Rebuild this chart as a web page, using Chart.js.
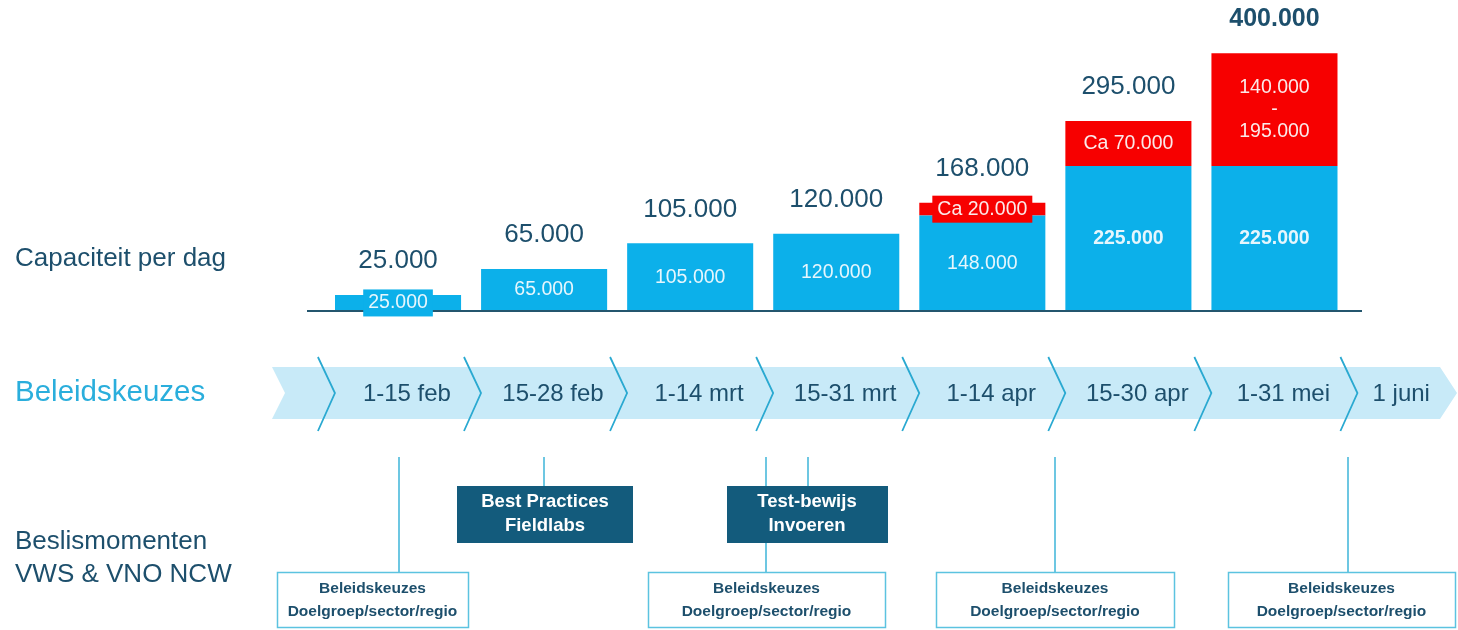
<!DOCTYPE html>
<html>
<head>
<meta charset="utf-8">
<script src="https://cdn.jsdelivr.net/npm/chart.js@4/dist/chart.umd.min.js"></script>
<style>
  html, body { margin: 0; padding: 0; background: #fff; }
  #wrap { width: 1458px; height: 630px; position: relative; }
</style>
</head>
<body>
<div id="wrap"><canvas id="grafico" width="1458" height="630"></canvas></div>
<script>
// periodes (balken) en tijdlijn
const periodes = ['1-15 feb', '15-28 feb', '1-14 mrt', '15-31 mrt', '1-14 apr', '15-30 apr', '1-31 mei'];
const tijdlijn = ['1-15 feb', '15-28 feb', '1-14 mrt', '15-31 mrt', '1-14 apr', '15-30 apr', '1-31 mei', '1 juni'];

// capaciteit per dag
const basis = [25000, 65000, 105000, 120000, 148000, 225000, 225000];
const extra = [0, 0, 0, 0, 20000, 70000, 175000];
const totalen = [25000, 65000, 105000, 120000, 168000, 295000, 400000];

const basisLabels = ['25.000', '65.000', '105.000', '120.000', '148.000', '225.000', '225.000'];
const extraLabels = ['', '', '', '', 'Ca 20.000', 'Ca 70.000', '140.000\n-\n195.000'];

const FONT = '"Liberation Sans", Arial, sans-serif';
const DONKER = '#1d4f6c';
const BLAUW = '#0cb0ea';
const ROOD = '#f70000';

function tekst(ctx, str, x, y, size, color, bold, align) {
  ctx.font = (bold ? 'bold ' : '') + size + 'px ' + FONT;
  ctx.fillStyle = color;
  ctx.textAlign = align || 'center';
  ctx.textBaseline = 'middle';
  ctx.fillText(str, x, y);
}

const infographic = {
  id: 'infographic',
  beforeDatasetsDraw(chart) {
    const ctx = chart.ctx;
    const x = chart.scales.x;
    ctx.save();

    // linker kolom
    tekst(ctx, 'Capaciteit per dag', 15, 259, 26, DONKER, false, 'left');
    tekst(ctx, 'Beleidskeuzes', 15, 393, 29.5, '#2aaedc', false, 'left');
    tekst(ctx, 'Beslismomenten', 15, 542, 26, DONKER, false, 'left');
    tekst(ctx, 'VWS & VNO NCW', 15, 575, 26, DONKER, false, 'left');

    // tijdlijn band
    ctx.fillStyle = '#c8eaf8';
    ctx.beginPath();
    ctx.moveTo(272, 367);
    ctx.lineTo(1440, 367);
    ctx.lineTo(1457, 393);
    ctx.lineTo(1440, 419);
    ctx.lineTo(272, 419);
    ctx.lineTo(285, 393);
    ctx.closePath();
    ctx.fill();

    const half = x.getPixelForValue(1) - x.getPixelForValue(0);
    const punten = tijdlijn.map((_, i) => x.getPixelForValue(i) - half * 0.432);
    ctx.strokeStyle = '#2aa9d1';
    ctx.lineWidth = 1.8;
    punten.forEach((p) => {
      ctx.beginPath();
      ctx.moveTo(p - 17, 357);
      ctx.lineTo(p, 393);
      ctx.lineTo(p - 17, 431);
      ctx.stroke();
    });
    tijdlijn.forEach((t, i) => {
      const cx = i < tijdlijn.length - 1 ? punten[i] + 72 : (punten[i] + 1445) / 2;
      tekst(ctx, t, cx, 394, 24, DONKER, false);
    });

    // beslismomenten
    ctx.strokeStyle = '#3cb5d9';
    ctx.lineWidth = 1.5;
    [[399, 457, 572], [544, 457, 486], [766, 457, 572], [808, 457, 486], [1055, 457, 572], [1348, 457, 572]].forEach(([lx, y1, y2]) => {
      ctx.beginPath();
      ctx.moveTo(lx, y1);
      ctx.lineTo(lx, y2);
      ctx.stroke();
    });

    ctx.fillStyle = '#135b7c';
    ctx.fillRect(457, 486, 176, 57);
    ctx.fillRect(727, 486, 161, 57);
    tekst(ctx, 'Best Practices', 545, 502, 18.5, '#fff', true);
    tekst(ctx, 'Fieldlabs', 545, 526, 18.5, '#fff', true);
    tekst(ctx, 'Test-bewijs', 807, 502, 18.5, '#fff', true);
    tekst(ctx, 'Invoeren', 807, 526, 18.5, '#fff', true);

    [[277, 191], [648, 237], [936, 238], [1228, 227]].forEach(([bx, bw]) => {
      ctx.fillStyle = '#fff';
      ctx.fillRect(bx, 572, bw, 56);
      ctx.strokeStyle = '#5cc3e0';
      ctx.lineWidth = 1.5;
      ctx.strokeRect(bx + 0.5, 572.5, bw, 55);
      tekst(ctx, 'Beleidskeuzes', bx + bw / 2, 589, 15.5, DONKER, true);
      tekst(ctx, 'Doelgroep/sector/regio', bx + bw / 2, 612, 15.5, DONKER, true);
    });

    ctx.restore();
  },
  afterDatasetsDraw(chart) {
    const ctx = chart.ctx;
    ctx.save();
    const metaB = chart.getDatasetMeta(0);
    const metaR = chart.getDatasetMeta(1);

    // basislijn
    ctx.strokeStyle = '#24566e';
    ctx.lineWidth = 2;
    ctx.beginPath();
    ctx.moveTo(307, chart.chartArea.bottom);
    ctx.lineTo(1362, chart.chartArea.bottom);
    ctx.stroke();

    const label = (bar, str, color, bg, bold) => {
      const lines = str.split('\n');
      const cy = (bar.y + bar.base) / 2;
      const h = Math.abs(bar.base - bar.y);
      ctx.font = (bold ? 'bold ' : '') + '19.5px ' + FONT;
      if (h < 24) {
        const w = ctx.measureText(lines[0]).width + 10;
        ctx.fillStyle = bg;
        ctx.fillRect(bar.x - w / 2, cy - 13.5, w, 27);
      }
      lines.forEach((l, j) => {
        tekst(ctx, l, bar.x, cy + (j - (lines.length - 1) / 2) * 22, 19.5, color, bold);
      });
    };

    metaB.data.forEach((bar, i) => {
      label(bar, basisLabels[i], '#e6f6fd', BLAUW, i >= 5);
      if (extra[i] > 0) label(metaR.data[i], extraLabels[i], '#fbe9e9', ROOD, false);
      const top = chart.scales.y.getPixelForValue(totalen[i]);
      const last = i === totalen.length - 1;
      tekst(ctx, totalen[i].toLocaleString('nl-NL'), bar.x, top - 34, last ? 25 : 26, DONKER, last);
    });
    ctx.restore();
  }
};

new Chart(document.getElementById('grafico'), {
  type: 'bar',
  data: {
    labels: periodes,
    datasets: [
      { data: basis, backgroundColor: BLAUW, stack: 's' },
      { data: extra, backgroundColor: ROOD, stack: 's' }
    ]
  },
  options: {
    responsive: false,
    animation: false,
    events: [],
    layout: { padding: { left: 325, right: 110.5, top: 21, bottom: 319 } },
    datasets: { bar: { categoryPercentage: 1, barPercentage: 0.863 } },
    scales: {
      x: { display: false, stacked: true },
      y: { display: false, stacked: true, min: 0, max: 450000 }
    },
    plugins: { legend: { display: false }, tooltip: { enabled: false } }
  },
  plugins: [infographic]
});
</script>
</body>
</html>
